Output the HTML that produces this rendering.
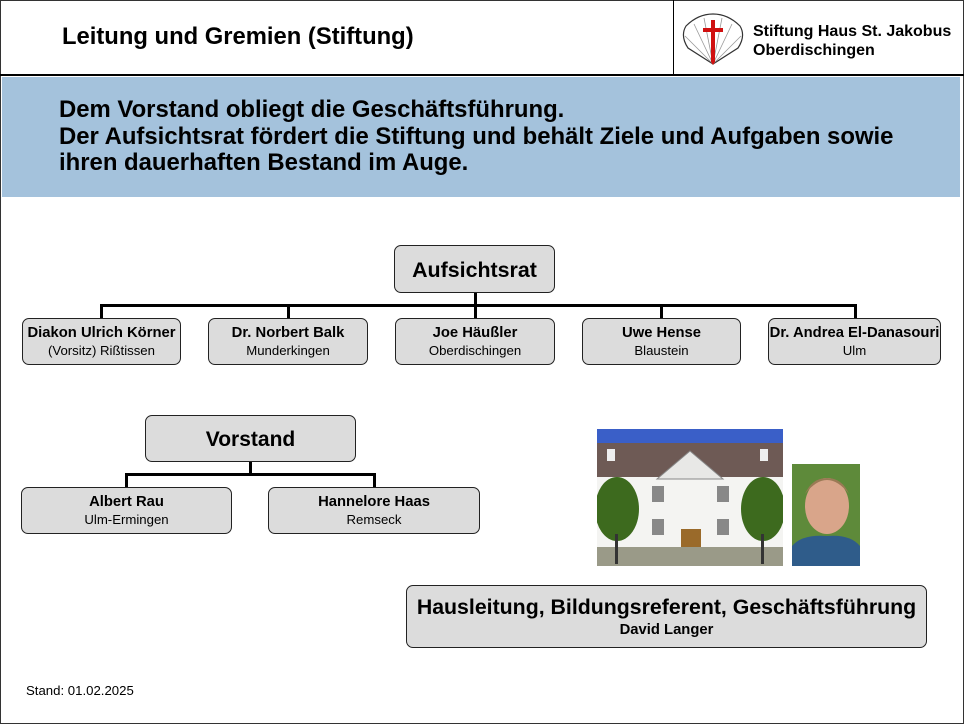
<!DOCTYPE html>
<html><head><meta charset="utf-8"><style>
*{margin:0;padding:0;box-sizing:border-box}
body{width:964px;height:724px;background:#fff;font-family:"Liberation Sans",Arial,sans-serif;position:relative;overflow:hidden}
.a{position:absolute}
.box{position:absolute;background:#dcdcdc;border:1.3px solid #222;border-radius:7px;text-align:center;color:#000}
.b{font-weight:bold}
.ln{position:absolute;background:#000}
.n{font-size:14.8px;font-weight:bold}
.s{font-size:13.2px;margin-top:2px}
</style></head><body>
<div class="a" style="left:0;top:0;width:964px;height:724px;border:1px solid #333"></div>
<div class="ln" style="left:0;top:74px;width:964px;height:1.5px"></div>
<div class="ln" style="left:673px;top:0;width:1.2px;height:74px"></div>
<div class="a b" style="left:62px;top:23px;font-size:23.8px">Leitung und Gremien (Stiftung)</div>
<svg class="a" style="left:680px;top:12px" width="66" height="54" viewBox="0 0 66 54">
<path d="M33 52 L8 36 Q0 24 6 14 Q18 2 33 2 Q48 2 60 14 Q66 24 58 36 Z" fill="#fff" stroke="#333" stroke-width="1.2"/>
<path d="M33 52 L14 12 M33 52 L24 6 M33 52 L42 6 M33 52 L52 12 M33 52 L5 24 M33 52 L61 24" stroke="#999" stroke-width="0.8"/>
<path d="M31 8h4v8h8v4h-8v30l-2 3l-2-3v-30h-8v-4h8z" fill="#d01010"/>
</svg>
<div class="a b" style="left:753px;top:22px;font-size:16px;line-height:19px">Stiftung Haus St. Jakobus<br>Oberdischingen</div>
<div class="a" style="left:2px;top:77px;width:958px;height:120px;background:#a4c2dc"></div>
<div class="a b" style="left:59px;top:97px;font-size:23.9px;line-height:26.5px;white-space:nowrap">Dem Vorstand obliegt die Geschäftsführung.<br>Der Aufsichtsrat fördert die Stiftung und behält Ziele und Aufgaben sowie<br>ihren dauerhaften Bestand im Auge.</div>

<div class="box b" style="left:394px;top:245px;width:161px;height:48px;font-size:21.4px;line-height:48px">Aufsichtsrat</div>
<div class="ln" style="left:474px;top:293px;width:3px;height:12px"></div>
<div class="ln" style="left:100px;top:304px;width:757px;height:3px"></div>
<div class="ln" style="left:100px;top:304px;width:3px;height:14px"></div>
<div class="ln" style="left:287px;top:304px;width:3px;height:14px"></div>
<div class="ln" style="left:474px;top:304px;width:3px;height:14px"></div>
<div class="ln" style="left:660px;top:304px;width:3px;height:14px"></div>
<div class="ln" style="left:854px;top:304px;width:3px;height:14px"></div>
<div class="box" style="left:22px;top:318px;width:159px;height:47px;padding-top:6px;white-space:nowrap"><div class="n">Diakon Ulrich Körner</div><div class="s">(Vorsitz) Rißtissen</div></div>
<div class="box" style="left:208px;top:318px;width:160px;height:47px;padding-top:6px"><div class="n">Dr. Norbert Balk</div><div class="s">Munderkingen</div></div>
<div class="box" style="left:395px;top:318px;width:160px;height:47px;padding-top:6px"><div class="n">Joe Häußler</div><div class="s">Oberdischingen</div></div>
<div class="box" style="left:582px;top:318px;width:159px;height:47px;padding-top:6px"><div class="n">Uwe Hense</div><div class="s">Blaustein</div></div>
<div class="box" style="left:768px;top:318px;width:173px;height:47px;padding-top:6px;white-space:nowrap"><div class="n">Dr. Andrea El-Danasouri</div><div class="s">Ulm</div></div>

<div class="box b" style="left:145px;top:415px;width:211px;height:47px;font-size:21px;line-height:48px">Vorstand</div>
<div class="ln" style="left:249px;top:462px;width:3px;height:12px"></div>
<div class="ln" style="left:125px;top:473px;width:251px;height:3px"></div>
<div class="ln" style="left:125px;top:473px;width:3px;height:14px"></div>
<div class="ln" style="left:373px;top:473px;width:3px;height:14px"></div>
<div class="box" style="left:21px;top:487px;width:211px;height:47px;padding-top:6px"><div class="n">Albert Rau</div><div class="s">Ulm-Ermingen</div></div>
<div class="box" style="left:268px;top:487px;width:212px;height:47px;padding-top:6px"><div class="n">Hannelore Haas</div><div class="s">Remseck</div></div>

<svg class="a" style="left:597px;top:429px" width="186" height="137" viewBox="0 0 186 137">
<rect width="186" height="137" fill="#3a5fc8"/>
<rect y="14" width="186" height="40" fill="#6e5a55"/>
<rect y="48" width="186" height="80" fill="#f4f4f2"/>
<polygon points="60,50 93,22 126,50" fill="#e8e8e6" stroke="#888"/>
<rect x="10" y="20" width="8" height="12" fill="#eee"/><rect x="163" y="20" width="8" height="12" fill="#eee"/>
<rect x="55" y="57" width="12" height="16" fill="#888"/><rect x="120" y="57" width="12" height="16" fill="#888"/>
<rect x="55" y="90" width="12" height="16" fill="#888"/><rect x="120" y="90" width="12" height="16" fill="#888"/>
<rect x="84" y="100" width="20" height="22" fill="#9a6a2a"/>
<rect y="118" width="186" height="19" fill="#9a9a88"/>
<ellipse cx="20" cy="80" rx="22" ry="32" fill="#3d6a1e"/><rect x="18" y="105" width="3" height="30" fill="#333"/>
<ellipse cx="166" cy="80" rx="22" ry="32" fill="#3d6a1e"/><rect x="164" y="105" width="3" height="30" fill="#333"/>
</svg>
<svg class="a" style="left:792px;top:464px" width="68" height="102" viewBox="0 0 68 102">
<rect width="68" height="102" fill="#5e8a3a"/>
<ellipse cx="35" cy="42" rx="22" ry="28" fill="#d9a58a"/>
<path d="M13 30 Q35 2 57 30 Q50 14 35 14 Q20 14 13 30Z" fill="#9a7a55"/>
<path d="M0 102 L0 82 Q10 70 35 72 Q58 70 68 82 L68 102Z" fill="#2f5c8a"/>
</svg>

<div class="box" style="left:406px;top:585px;width:521px;height:63px;padding-top:9px;white-space:nowrap"><div class="b" style="font-size:21.3px">Hausleitung, Bildungsreferent, Geschäftsführung</div><div class="b" style="font-size:14.8px;margin-top:2px">David Langer</div></div>
<div class="a" style="left:26px;top:683px;font-size:13.2px">Stand: 01.02.2025</div>
</body></html>
